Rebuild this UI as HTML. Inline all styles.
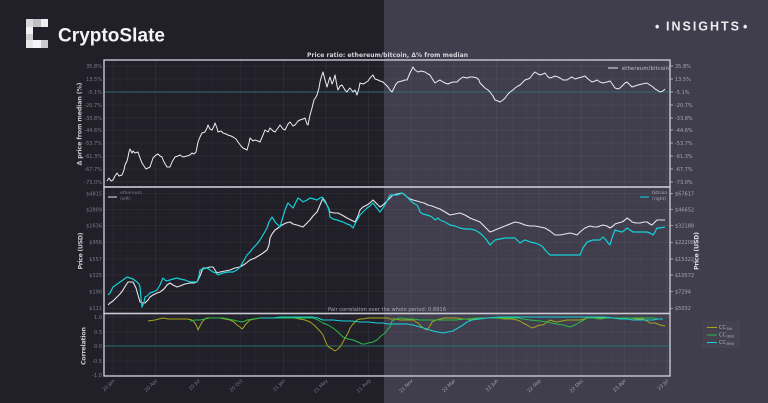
<!DOCTYPE html>
<html><head><meta charset="utf-8"><style>
html,body{margin:0;padding:0;background:#211f28;}
svg{display:block;}
</style></head><body>
<svg width="768" height="403" viewBox="0 0 768 403" xmlns="http://www.w3.org/2000/svg">
<rect x="0" y="0" width="384" height="403" fill="#211f28"/>
<rect x="384" y="0" width="384" height="403" fill="#403e4c"/>

<!-- Logo -->
<g>
<rect x="26" y="19" width="7" height="8" fill="#d9d9dc"/>
<rect x="33" y="19" width="8" height="8" fill="#bfbfc4"/>
<rect x="41" y="19" width="7" height="8" fill="#efeff1"/>
<rect x="26" y="27" width="7" height="7" fill="#f2f2f4"/>
<rect x="26" y="34" width="7" height="6" fill="#cfcfd3"/>
<rect x="26" y="40" width="7" height="8" fill="#e6e6e9"/>
<rect x="33" y="40" width="8" height="8" fill="#f5f5f6"/>
<rect x="41" y="40" width="7" height="8" fill="#c9c9ce"/>
</g>
<text x="58" y="41.5" font-family="Liberation Sans, sans-serif" font-weight="bold" font-size="19" fill="#f4f4f6" textLength="107">CryptoSlate</text>
<text x="655" y="31" font-family="Liberation Sans, sans-serif" font-weight="bold" font-size="12.5" fill="#ececf0">•</text>
<text x="666" y="30.5" font-family="Liberation Sans, sans-serif" font-weight="bold" font-size="12.5" fill="#ececf0" textLength="73">INSIGHTS</text>
<text x="743" y="31" font-family="Liberation Sans, sans-serif" font-weight="bold" font-size="12.5" fill="#ececf0">•</text>

<!-- Title -->
<text x="387.5" y="57" text-anchor="middle" font-family="DejaVu Sans, sans-serif" font-weight="bold" font-size="6" fill="#d6d6de" textLength="161">Price ratio: ethereum/bitcoin, Δ% from median</text>

<!-- Grid -->
<g stroke="#ffffff" stroke-opacity="0.035" stroke-width="0.6">
<path d="M127.2 60V376M141.4 60V376M169.8 60V376M184 60V376M212.8 60V376M227 60V376M255.6 60V376M269.8 60V376M298.4 60V376M312.6 60V376M341.2 60V376M355.4 60V376M384 60V376M398.2 60V376M426.8 60V376M441 60V376M469.6 60V376M483.8 60V376M512.4 60V376M526.6 60V376M555.2 60V376M569.4 60V376M598 60V376M612.2 60V376M640.8 60V376M655 60V376"/>
<path d="M104 324.5H670M104 339H670M104 353.5H670M104 368H670M104 201.7H670M104 217.7H670M104 234H670M104 250.6H670M104 267H670M104 283.4H670M104 300H670M104 72.5H670M104 85.5H670M104 98.5H670M104 111.5H670M104 124H670M104 136.5H670M104 149.5H670M104 162.5H670M104 175.5H670"/>
</g>
<g stroke="#ffffff" stroke-opacity="0.07" stroke-width="0.7">
<path d="M113 60V376M155.6 60V376M198.2 60V376M240.8 60V376M283.4 60V376M326 60V376M368.6 60V376M411.2 60V376M453.8 60V376M496.4 60V376M539 60V376M581.6 60V376M624.2 60V376M666.8 60V376"/>
<path d="M104 66H670M104 79H670M104 105H670M104 118H670M104 130H670M104 143H670M104 156H670M104 169H670M104 182H670"/>
<path d="M104 193.7H670M104 209.7H670M104 225.7H670M104 242.3H670M104 259H670M104 275H670M104 291.7H670M104 308.3H670"/>
<path d="M104 317H670M104 332H670M104 361H670M104 375H670"/>
</g>
<line x1="104" y1="92" x2="670" y2="92" stroke="#2f6a70" stroke-width="1"/>
<line x1="104" y1="346" x2="670" y2="346" stroke="#267270" stroke-width="1"/>

<!-- Top series -->
<polyline fill="none" stroke="#ececf2" stroke-width="1" stroke-linejoin="round" points="107,181 109,178 111,181 113,180 115,176 117,173 119,176 122,175 124,170 125,165 127,161 128,157 129,152 130,149 132,153 133,151 135,153 138,152 140,158 142,163 144,166 146,169 148,168 150,167 152,161 153,158 156,155 158,154 160,156 162,157 164,162 167,167 170,167 172,162 175,157 178,156 180,155 183,157 187,156 190,155 192,153 194,154 196,152 197,147 198,142 200,137 202,133 205,132 207,128 208,125 210,129 212,130 214,126 215,123 217,128 218,132 221,131 223,133 226,134 228,135 231,136 233,137 236,139 238,142 241,146 243,148 245,149 247,150 249,143 250,138 253,141 255,140 258,141 260,142 263,135 265,130 268,132 270,128 273,131 275,132 278,128 280,125 283,129 285,130 288,124 290,122 293,126 295,125 298,121 300,120 303,119 305,118 307,124 308,125 310,115 312,108 314,100 316,97 317,95 319,88 320,82 321,78 323,72 325,80 327,87 329,80 330,77 332,84 333,82 335,75 337,86 338,90 340,86 342,85 345,90 347,92 349,89 350,88 353,92 355,90 357,95 359,88 360,83 363,84 365,83 368,81 370,78 373,75 375,79 378,80 380,81 383,82 386,85 388,87 390,90 392,92 394,88 396,84 398,82 402,81 405,80 407,80 410,73 413,67 415,70 418,72 421,71 425,72 428,74 430,75 433,80 435,83 438,81 440,80 443,82 445,83 448,84 450,83 453,82 457,82 460,79 463,77 467,78 470,77 473,77 477,78 479,80 480,83 483,86 485,88 488,90 490,92 493,96 495,100 498,101 500,102 503,100 505,98 508,94 510,92 513,90 515,88 518,86 520,85 523,82 525,80 528,79 530,78 533,74 535,72 538,74 540,75 543,74 545,73 548,77 550,78 553,77 555,76 558,77 560,78 563,80 567,80 570,78 572,77 575,79 578,78 582,77 585,76 588,79 592,82 595,81 597,80 600,82 603,83 607,82 610,81 613,85 615,88 618,89 620,88 623,85 625,83 627,82 630,85 632,87 635,86 638,85 642,84 647,83 650,85 653,87 655,89 657,90 660,92 663,91 665,89"/>

<!-- Middle series: ETH white then BTC cyan -->
<polyline fill="none" stroke="#e6e6ec" stroke-width="1.1" stroke-linejoin="round" points="108,305 110,303 113,301 117,297 120,294 123,290 126,285 128,282 131,282 133,282 136,288 138,295 140,302 143,303 145,303 148,300 150,297 153,295 157,293 160,292 164,289 167,285 170,283 173,285 177,287 180,286 185,284 190,283 194,283 197,282 200,276 203,268 206,268 210,267 213,267 215,270 217,273 220,272 225,271 230,270 235,268 240,267 245,264 250,260 255,258 260,255 263,253 267,250 269,245 270,238 272,234 275,230 278,228 282,225 286,223 290,222 293,224 297,225 300,226 303,227 306,224 310,220 313,216 317,212 320,205 323,198 325,201 327,205 329,209 330,212 334,213 338,213 342,215 347,218 351,220 355,222 358,216 360,210 363,207 367,205 370,203 373,200 376,203 380,207 383,205 388,200 393,195 397,194 402,193 405,195 407,197 410,199 413,200 417,201 420,202 424,203 428,205 432,206 437,208 440,209 445,212 450,215 455,214 460,213 465,215 470,218 475,220 480,222 485,227 490,232 493,231 495,230 500,228 505,226 510,224 515,222 520,223 525,225 530,226 535,226 540,227 545,228 550,231 555,235 560,235 565,234 570,233 574,234 577,235 580,232 585,228 590,226 594,227 597,227 600,226 603,225 607,226 610,228 613,226 615,224 618,223 622,222 625,220 627,218 630,220 632,222 636,223 640,223 644,222 647,222 650,224 652,225 655,222 657,220 661,220 665,220"/>
<polyline fill="none" stroke="#14d2da" stroke-width="1.2" stroke-linejoin="round" points="108,295 110,293 113,287 116,285 120,282 123,280 127,277 130,278 133,279 137,282 139,284 140,287 141,298 142,307 144,302 145,297 147,296 150,293 153,292 157,290 160,285 163,278 166,281 170,280 173,279 177,278 180,279 185,280 190,282 194,282 197,282 199,276 200,270 203,269 207,268 210,270 213,272 216,273 218,275 220,274 223,273 228,272 233,272 237,270 240,267 243,262 247,255 250,252 253,248 257,244 260,240 263,235 267,228 269,222 272,217 274,220 275,222 278,225 280,227 282,220 285,210 287,205 288,203 291,206 293,208 296,202 298,198 301,200 303,202 307,200 310,198 314,199 317,200 320,198 322,197 324,201 327,205 329,210 330,217 333,219 337,220 340,221 343,222 347,224 350,225 352,227 353,228 356,222 360,215 363,212 367,208 370,206 373,203 376,207 380,212 383,208 386,203 390,195 393,195 397,195 400,194 402,193 405,195 407,197 410,200 412,202 415,204 417,205 419,209 420,212 423,214 427,215 430,216 432,217 434,219 435,220 438,218 440,220 445,222 450,225 455,226 460,228 465,229 470,229 475,230 480,233 485,238 488,242 490,245 493,242 495,240 500,239 505,238 510,238 515,238 518,241 520,243 523,241 525,240 528,241 530,242 535,243 540,245 543,247 545,250 548,253 550,255 555,255 560,255 565,255 570,255 573,255 577,255 580,255 583,248 587,242 590,241 593,240 597,240 600,240 603,237 606,240 608,243 610,245 612,238 615,230 618,231 622,232 625,230 627,228 630,230 633,232 638,232 643,232 647,232 650,233 653,235 655,232 657,228 660,228 665,227"/>

<!-- Bottom correlation series -->
<polyline fill="none" stroke="#a8a41e" stroke-width="1" stroke-linejoin="round" points="148,321 155,320 163,318 168,319 173,319 180,319 187,319 192,320 195,323 197,327 198,330 200,326 202,322 205,319 207,318 213,318 220,318 225,319 230,320 234,322 237,325 240,327 242,329 244,327 245,325 248,322 250,320 255,319 260,318 267,318 273,318 280,318 287,318 294,318 300,319 305,320 310,322 314,325 317,328 320,331 323,335 325,340 327,345 330,348 332,349 335,351 338,349 340,347 343,342 345,338 348,333 350,328 353,324 357,320 360,319 363,319 368,318 373,318 380,318 387,318 390,319 395,319 400,320 407,320 413,320 418,323 422,327 425,329 427,330 430,326 432,322 436,320 440,319 445,318 450,318 457,318 463,319 467,319 470,320 475,319 480,318 490,318 497,318 505,319 512,319 517,320 520,321 523,323 527,325 532,328 535,327 537,326 540,325 543,325 547,322 550,320 553,321 557,322 562,321 567,320 573,320 580,320 584,319 587,318 595,318 600,318 607,318 613,318 620,318 630,318 637,319 643,319 647,321 650,323 655,323 660,325 665,326"/>
<polyline fill="none" stroke="#29bb49" stroke-width="1" stroke-linejoin="round" points="190,321 195,320 200,320 205,319 210,318 217,318 223,318 228,319 233,320 237,321 242,322 245,321 247,320 253,319 260,318 268,318 277,318 285,318 293,318 303,318 313,318 318,320 323,323 328,325 333,328 338,332 343,337 348,339 353,340 358,342 362,344 365,344 368,343 373,342 377,340 381,336 385,333 388,329 390,327 392,321 396,319 400,318 407,319 413,319 420,320 430,320 440,320 447,320 455,320 467,319 477,318 487,318 500,318 513,318 518,318 523,319 530,320 540,321 547,322 552,323 557,324 563,325 570,327 575,325 580,322 584,320 587,318 593,318 600,319 607,318 613,318 620,318 627,318 635,318 640,318 647,318 653,318 658,319 663,319"/>
<polyline fill="none" stroke="#19d0d8" stroke-width="1.1" stroke-linejoin="round" points="260,318 267,318 273,318 280,317 287,317 300,317 313,317 318,318 323,320 333,320 343,321 352,321 360,322 368,322 377,323 383,323 388,324 395,324 400,324 407,324 413,325 420,327 427,329 433,331 438,332 443,333 448,332 453,331 458,328 463,325 467,322 472,320 480,319 487,318 500,317 513,317 530,317 550,317 565,317 580,317 595,317 605,317 613,318 620,319 627,319 633,320 640,320 647,320 653,320 658,319 663,319"/>

<!-- Panel frames -->
<g fill="none" stroke="#c8c8d2" stroke-width="1.4">
<rect x="104" y="60" width="566" height="127"/>
<rect x="104" y="187" width="566" height="126.5"/>
<rect x="104" y="313.5" width="566" height="62.5"/>
</g>

<!-- Legends -->
<line x1="608" y1="68" x2="618" y2="68" stroke="#e6e6ec" stroke-width="1"/>
<text x="622" y="70" font-family="DejaVu Sans, sans-serif" font-size="5" fill="#c6c6d0" textLength="47">ethereum/bitcoin</text>
<line x1="108" y1="197" x2="117" y2="197" stroke="#e6e6ec" stroke-width="1"/>
<text x="120" y="194" font-family="DejaVu Sans, sans-serif" font-size="4.5" fill="#7c7b86">ethereum</text>
<text x="120" y="200" font-family="DejaVu Sans, sans-serif" font-size="4.5" fill="#7c7b86">(left)</text>
<line x1="640" y1="197" x2="649" y2="197" stroke="#14d2da" stroke-width="1"/>
<text x="652" y="194" font-family="DejaVu Sans, sans-serif" font-size="4.5" fill="#a6a5b0">bitcoin</text>
<text x="652" y="200" font-family="DejaVu Sans, sans-serif" font-size="4.5" fill="#a6a5b0">(right)</text>

<rect x="703" y="322" width="36" height="25" fill="#44424e" stroke="#4e4c58" stroke-width="0.5"/>
<line x1="707" y1="327.5" x2="717" y2="327.5" stroke="#a8a41e" stroke-width="1"/>
<line x1="707" y1="335" x2="717" y2="335" stroke="#29bb49" stroke-width="1"/>
<line x1="707" y1="342.5" x2="717" y2="342.5" stroke="#19d0d8" stroke-width="1"/>
<g font-family="DejaVu Sans, sans-serif" fill="#b0afba">
<text x="719" y="329" font-size="5">CC<tspan font-size="3.2" dy="1">30d</tspan></text>
<text x="719" y="336.5" font-size="5">CC<tspan font-size="3.2" dy="1">180d</tspan></text>
<text x="719" y="344" font-size="5">CC<tspan font-size="3.2" dy="1">365d</tspan></text>
</g>

<text x="387" y="311" text-anchor="middle" font-family="DejaVu Sans, sans-serif" font-size="5" fill="#a8a7b2" textLength="118">Pair correlation over the whole period: 0.8916</text>

<!-- Left tick labels -->
<g font-family="DejaVu Sans, sans-serif" font-size="5" fill="#7d7c87" text-anchor="end">
<text x="102" y="68">35.8%</text><text x="102" y="81">13.5%</text><text x="102" y="94">-5.1%</text><text x="102" y="107">-20.7%</text><text x="102" y="120">-33.8%</text><text x="102" y="132">-44.6%</text><text x="102" y="145">-53.7%</text><text x="102" y="158">-61.3%</text><text x="102" y="171">-67.7%</text><text x="102" y="184">-73.0%</text>
<text x="102" y="195.5">$4815</text><text x="102" y="211.5">$2809</text><text x="102" y="227.5">$1636</text><text x="102" y="244">$956</text><text x="102" y="261">$557</text><text x="102" y="277">$325</text><text x="102" y="293.5">$190</text><text x="102" y="310">$111</text>
<text x="102" y="319">1.0</text><text x="102" y="334">0.5</text><text x="102" y="348">0.0</text><text x="102" y="363">-0.5</text><text x="102" y="377">-1.0</text>
</g>
<!-- Right ticks -->
<g stroke="#c8c8d2" stroke-width="0.7">
<path d="M670 66H673M670 79H673M670 92H673M670 105H673M670 118H673M670 130H673M670 143H673M670 156H673M670 169H673M670 182H673M670 193.7H673M670 209.7H673M670 225.7H673M670 242.3H673M670 259H673M670 275H673M670 291.7H673M670 308.3H673"/>
</g>
<g font-family="DejaVu Sans, sans-serif" font-size="5" fill="#a6a5b0">
<text x="675" y="68">35.8%</text><text x="675" y="81">13.5%</text><text x="675" y="94">-5.1%</text><text x="675" y="107">-20.7%</text><text x="675" y="120">-33.8%</text><text x="675" y="132">-44.6%</text><text x="675" y="145">-53.7%</text><text x="675" y="158">-61.3%</text><text x="675" y="171">-67.7%</text><text x="675" y="184">-73.0%</text>
<text x="675" y="195.5">$67617</text><text x="675" y="211.5">$46652</text><text x="675" y="227.5">$32188</text><text x="675" y="244">$22208</text><text x="675" y="261">$15322</text><text x="675" y="277">$10572</text><text x="675" y="293.5">$7294</text><text x="675" y="310">$5032</text>
</g>

<!-- Axis labels -->
<g font-family="DejaVu Sans, sans-serif" font-weight="bold" font-size="6.3" text-anchor="middle">
<text transform="translate(81.5,124) rotate(-90)" fill="#c8c8d0" textLength="83">Δ price from median (%)</text>
<text transform="translate(82.5,251) rotate(-90)" fill="#c8c8d0" textLength="37">Price (USD)</text>
<text transform="translate(698.5,251) rotate(-90)" fill="#dcdce4" textLength="38">Price (USD)</text>
<text transform="translate(85.5,346) rotate(-90)" fill="#c8c8d0" textLength="38">Correlation</text>
</g>

<!-- X tick labels -->
<g font-family="DejaVu Sans, sans-serif" font-size="4.8" text-anchor="end">
<text fill="#7d7c87" transform="translate(115,381) rotate(-45)">20 Jan</text>
<text fill="#7d7c87" transform="translate(157.6,381) rotate(-45)">20 Apr</text>
<text fill="#7d7c87" transform="translate(200.2,381) rotate(-45)">20 Jul</text>
<text fill="#7d7c87" transform="translate(242.8,381) rotate(-45)">20 Oct</text>
<text fill="#7d7c87" transform="translate(285.4,381) rotate(-45)">21 Jan</text>
<text fill="#7d7c87" transform="translate(328,381) rotate(-45)">21 May</text>
<text fill="#7d7c87" transform="translate(370.6,381) rotate(-45)">21 Aug</text>
<text fill="#a6a5b0" transform="translate(413.2,381) rotate(-45)">21 Nov</text>
<text fill="#a6a5b0" transform="translate(455.8,381) rotate(-45)">22 Mar</text>
<text fill="#a6a5b0" transform="translate(498.4,381) rotate(-45)">22 Jun</text>
<text fill="#a6a5b0" transform="translate(541,381) rotate(-45)">22 Sep</text>
<text fill="#a6a5b0" transform="translate(583.6,381) rotate(-45)">22 Dec</text>
<text fill="#a6a5b0" transform="translate(626.2,381) rotate(-45)">23 Apr</text>
<text fill="#a6a5b0" transform="translate(668.8,381) rotate(-45)">23 Jul</text>
</g>
</svg>
</body></html>
